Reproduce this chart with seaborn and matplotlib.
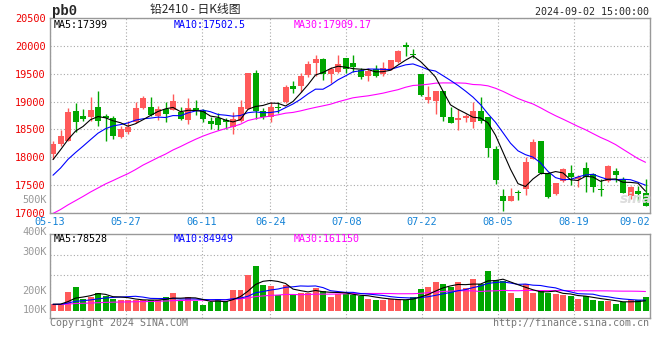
import matplotlib
matplotlib.use("Agg")
import matplotlib.pyplot as plt
import seaborn as sns
import numpy as np
import pandas as pd

# pb2410 daily bars, 2024-05-13 .. 2024-09-02 (80 trading days)
opens = [18061, 18240, 18300, 18825, 18736, 18730, 18897, 18736, 18700, 18360,
         18460, 18628, 18879, 18897, 18748, 18867, 18857, 18821, 18667, 18887,
         18827, 18643, 18702, 18665, 18546, 18651, 18870, 19504, 18827, 18728,
         18910, 18994, 19275, 19281, 19478, 19688, 19760, 19490, 19538, 19777,
         19688, 19562, 19460, 19580, 19490, 19580, 19712, 20010, 19861, 19490,
         19020, 19018, 19196, 18726, 18667, 18702, 18631, 18822, 18726, 18155,
         17298, 17215, 17382, 17429, 17976, 18286, 17714, 17338, 17577, 17714,
         17619, 17815, 17696, 17428, 17577, 17756, 17607, 17297, 17398, 17356]
highs = [18300, 18497, 18879, 18975, 18867, 19076, 19190, 18778, 18748, 18569,
         18652, 18987, 19094, 19076, 18927, 19000, 19143, 18905, 19065, 19036,
         18869, 18726, 18786, 18713, 18820, 19024, 19515, 19575, 18880, 19000,
         18994, 19293, 19365, 19520, 19730, 19837, 19789, 19628, 19837, 19777,
         19837, 19610, 19610, 19652, 19718, 19748, 19927, 20070, 19939, 19490,
         19278, 19184, 19196, 18905, 18869, 18768, 18988, 19083, 18726, 18203,
         17429, 17441, 17417, 18012, 18322, 18286, 17738, 17545, 17815, 17857,
         17678, 17923, 17726, 17607, 17857, 17815, 17654, 17490, 17487, 17607]
lows = [17972, 18210, 18290, 18449, 18646, 18658, 18569, 18300, 18330, 18342,
        18420, 18616, 18867, 18748, 18670, 18640, 18850, 18667, 18590, 18756,
        18631, 18500, 18488, 18516, 18415, 18638, 18860, 18680, 18680, 18633,
        18790, 18982, 19161, 19179, 19448, 19460, 19389, 19341, 19520, 19520,
        19532, 19400, 19370, 19448, 19460, 19568, 19688, 19820, 19789, 19100,
        18980, 18768, 18649, 18607, 18488, 18637, 18530, 18607, 18012, 17518,
        17042, 17215, 17239, 17328, 17964, 17696, 17261, 17330, 17559, 17499,
        17458, 17380, 17380, 17309, 17565, 17559, 17356, 17250, 17219, 17118]
closes = [18240, 18378, 18819, 18640, 18688, 18849, 18658, 18706, 18378, 18509,
          18540, 18879, 19064, 18760, 18867, 18778, 19006, 18679, 18887, 18851,
          18690, 18590, 18572, 18635, 18687, 18907, 19504, 18827, 18728, 18898,
          18886, 19263, 19233, 19460, 19670, 19760, 19490, 19580, 19670, 19592,
          19622, 19442, 19550, 19460, 19610, 19748, 19909, 19987, 19837, 19114,
          19080, 19184, 18720, 18607, 18708, 18738, 18822, 18649, 18173, 17596,
          17215, 17298, 17352, 17917, 18274, 17714, 17279, 17535, 17797, 17654,
          17654, 17654, 17470, 17410, 17845, 17678, 17356, 17458, 17338, 17130]
volumes = [58000, 58000, 152000, 192000, 98000, 112000, 144000, 120000, 98000, 86000,
           86000, 90000, 86000, 90000, 86000, 112000, 144000, 80000, 110000, 78000,
           46000, 72000, 94000, 78000, 166000, 166000, 290000, 360000, 206000, 200000,
           126000, 210000, 134000, 146000, 146000, 186000, 158000, 112000, 138000, 134000,
           126000, 118000, 94000, 86000, 90000, 94000, 94000, 86000, 112000, 174000,
           192000, 232000, 214000, 192000, 232000, 184000, 254000, 214000, 320000, 246000,
           238000, 144000, 104000, 218000, 144000, 158000, 144000, 134000, 126000, 120000,
           94000, 120000, 86000, 78000, 78000, 54000, 72000, 86000, 86000, 112000]

# closes / volumes of the 29 sessions before 05-13, inferred from where the MA lines start
prev_closes = [16250, 16300, 16380, 16420, 16450, 16500, 16520, 16560, 16600, 16720,
               16700, 16650, 16760, 16820, 16900, 16780, 16850, 16880, 16950, 16960,
               17100, 17250, 17420, 17550, 17670, 17500, 17900, 17880, 18270]
prev_volumes = [47000, 52000, 55000, 49000, 51000, 58000, 50000, 46000, 53000, 56000,
                48000, 51000, 54000, 50000, 47000, 52000, 55000, 49000, 53000, 50000,
                48000, 54000, 51000, 49000, 52000, 56000, 50000, 53000, 55000]

tick_index = [0, 10, 20, 29, 39, 49, 59, 69, 79]
tick_labels = ["05-13", "05-27", "06-11", "06-24", "07-08", "07-22", "08-05", "08-19", "09-02"]
price_levels = [17000, 17500, 18000, 18500, 19000, 19500, 20000, 20500]

RED = "#ff5a5a"
GREEN = "#00a600"
GRID = "#a8a8a8"
BORDER = "#999999"
W, H = 660, 360

sns.set_style("white")
plt.rcParams["font.family"] = ["DejaVu Sans Mono", "Noto Sans CJK SC"]

n = len(closes)
df = pd.DataFrame({"x": np.arange(n), "open": opens, "high": highs, "low": lows,
                   "close": closes, "vol": volumes})
df["dir"] = np.where(df["close"] >= df["open"], "up", "down")
colors = np.where(df["dir"] == "up", RED, GREEN)
all_close = pd.Series(prev_closes + closes)
all_vol = pd.Series(prev_volumes + volumes)
for w in (5, 10, 30):
    df["ma%d" % w] = all_close.rolling(w).mean().iloc[-n:].values
    df["vma%d" % w] = all_vol.rolling(w).mean().iloc[-n:].values


def box(x0, y0, x1, y1):
    return [x0 / W, 1 - y1 / H, (x1 - x0) / W, (y1 - y0) / H]


def ftext(px, py, s, **kw):
    fig.text(px / W, 1 - py / H, s, va="center", **kw)


fig = plt.figure(figsize=(6.6, 3.6), dpi=100, facecolor="white")
ax = fig.add_axes(box(50, 18, 650, 213))
axv = fig.add_axes(box(50, 234, 650, 318))

# candles
ax.vlines(df["x"], df["low"], df["high"], colors=colors, lw=1, zorder=2)
body = (df["close"] - df["open"]).abs().clip(lower=18)
ax.bar(df["x"], body, bottom=np.minimum(df["open"], df["close"]), width=0.8,
       color=colors, lw=0, zorder=2)
line_cols = [("30", "#ff00ff"), ("10", "#0000ff"), ("5", "#000000")]
for w, c in line_cols:
    sns.lineplot(data=df, x="x", y="ma" + w, ax=ax, color=c, lw=0.8, errorbar=None, zorder=3)

# volume
sns.barplot(data=df, x="x", y="vol", hue="dir", palette={"up": RED, "down": GREEN},
            native_scale=True, dodge=False, saturation=1, width=0.8, legend=False,
            errorbar=None, linewidth=0, ax=axv, zorder=2)
for w, c in line_cols:
    sns.lineplot(data=df, x="x", y="vma" + w, ax=axv, color=c, lw=0.8, errorbar=None, zorder=3)

grid_x = [k * n / (n - 1) - 0.4 for k in tick_index]
for a in (ax, axv):
    a.set_xlim(-0.4, n - 0.4)
    a.set_xlabel("")
    a.set_ylabel("")
    for s in a.spines.values():
        s.set_visible(True)
        s.set_color(BORDER)
        s.set_linewidth(1)
    a.set_xticks(grid_x)
    a.grid(True, color=GRID, lw=0.8, ls=(0, (1, 2)), zorder=0)
    a.set_axisbelow(True)

ax.set_ylim(17000, 20500)
ax.set_yticks(price_levels)
ax.set_yticklabels([str(v) for v in price_levels])
ax.tick_params(axis="y", length=0, pad=3, labelcolor="#ee0000", labelsize=7.4)
ax.set_xticklabels(tick_labels)
ax.tick_params(axis="x", length=0, pad=3, labelcolor="#1583d6", labelsize=7.4)
xt = ax.get_xticklabels()
xt[-1].set_ha("right")

axv.set_ylim(-56000, 616000)
axv.set_yticks([288000, 448000])
axv.set_yticklabels([])
axv.set_xticklabels([])
axv.tick_params(length=0)

# header and labels
ftext(52, 11, "pb0", ha="left", fontsize=10, fontweight="bold", family="Liberation Mono")
ftext(195, 10, "铅2410 - 日K线图", ha="center", fontsize=8.5,
      family=["Noto Sans CJK SC", "DejaVu Sans"])
ftext(649, 12, "2024-09-02 15:00:00", ha="right", fontsize=7.2)
ftext(54, 25, "MA5:17399", ha="left", fontsize=7.2, color="#000000")
ftext(174, 25, "MA10:17502.5", ha="left", fontsize=7.2, color="#0000ff")
ftext(294, 25, "MA30:17909.17", ha="left", fontsize=7.2, color="#ff00ff")
ftext(54, 239, "MA5:78528", ha="left", fontsize=7.2, color="#000000")
ftext(174, 239, "MA10:84949", ha="left", fontsize=7.2, color="#0000ff")
ftext(294, 239, "MA30:161150", ha="left", fontsize=7.2, color="#ff00ff")
for lab, py in [("500K", 200), ("400K", 232), ("300K", 252), ("200K", 291), ("100K", 310)]:
    ftext(47, py, lab, ha="right", fontsize=7.4, color="#999999")
ftext(50, 323, "Copyright 2024 SINA.COM", ha="left", fontsize=7.2, color="#777777")
ftext(649, 323, "http://finance.sina.com.cn", ha="right", fontsize=7.2, color="#777777")
ftext(636, 199, "sina", ha="center", fontsize=10, fontweight="bold", style="italic",
      color="#dddddd", family="DejaVu Sans")

fig.savefig("out.png", dpi=100, facecolor="white")
